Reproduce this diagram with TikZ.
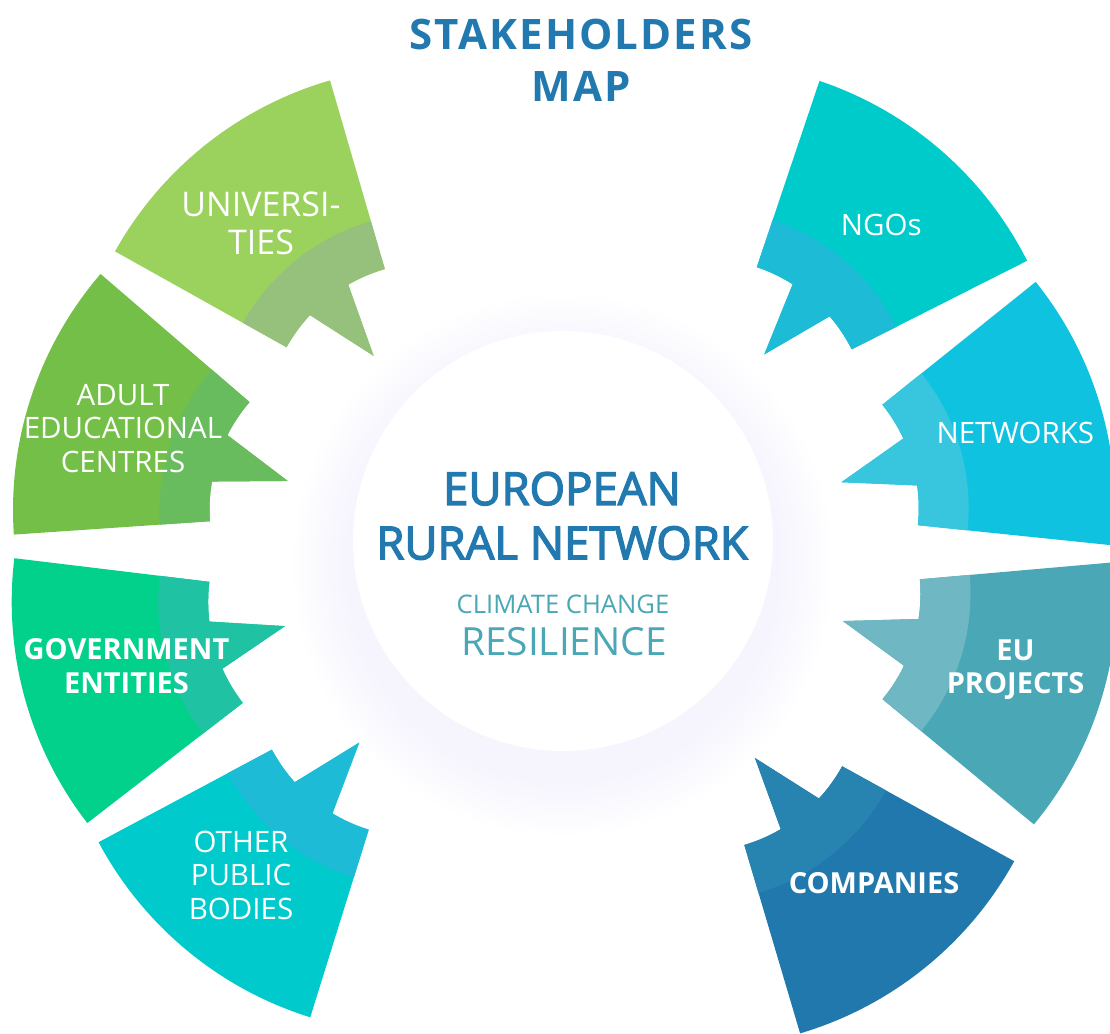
\documentclass[tikz,border=0pt]{standalone}
\usepackage{fontspec}
\setmainfont{Open Sans}
\newfontfamily\hubfont{Open Sans}[FakeBold=3]
\newfontfamily\titlefont{Open Sans}[LetterSpace=5]
\usetikzlibrary{calc}
\definecolor{univgreen}{HTML}{9BD25E}
\definecolor{univband}{HTML}{96C17C}
\definecolor{adultgreen}{HTML}{74BF47}
\definecolor{adultband}{HTML}{69BC5E}
\definecolor{govgreen}{HTML}{02D18B}
\definecolor{govband}{HTML}{1FC3A3}
\definecolor{publicteal}{HTML}{00CACB}
\definecolor{publicband}{HTML}{1EBBD6}
\definecolor{compblue}{HTML}{2178AD}
\definecolor{compband}{HTML}{2783B0}
\definecolor{euteal}{HTML}{4AA7B5}
\definecolor{euband}{HTML}{6FB8C3}
\definecolor{netcyan}{HTML}{0FC2E0}
\definecolor{netband}{HTML}{38C6DE}
\definecolor{ngoteal}{HTML}{00CBCB}
\definecolor{ngoband}{HTML}{1EBBD6}
\definecolor{titleblue}{HTML}{2179AF}
\definecolor{subteal}{HTML}{4AA7B5}
\definecolor{haze}{HTML}{E6E2FB}
\tikzstyle{seglabel} = [text=white, align=center, anchor=base, font=\fontsize{29.5}{33.5}\selectfont]
\tikzstyle{seglabel bold} = [seglabel, font=\bfseries\fontsize{29}{33.5}\selectfont]
\tikzstyle{seglabel big} = [seglabel, font=\fontsize{34}{38}\selectfont]
\newcommand{\segshape}[3]{($(#1)+(#2-22.3:165.5pt)$) -- ($(#1)+(#2-22.3:#3pt)$) arc[start angle=#2-22.3, end angle=#2+22.3, radius=#3pt] -- ($(#1)+(#2+22.3:165.5pt)$) arc[start angle=#2+22.3, end angle=#2+8.5, radius=165.5pt] -- ($(#1)+(#2:92pt)$) -- ($(#1)+(#2-8.5:165.5pt)$) arc[start angle=#2-8.5, end angle=#2-22.3, radius=165.5pt] -- cycle}

\begin{document}
\begin{tikzpicture}[x=1pt, y=1pt]
\useasboundingbox (0,0) rectangle (1110,1033);
\clip (0,0) rectangle (1110,1033);
\coordinate (hub) at (563,492);
\coordinate (univ) at (431,605);
\coordinate (adult) at (375,523);
\coordinate (gov) at (373.7,431.3);
\coordinate (public) at (417.9,361.3);
\coordinate (comp) at (697.3,346.7);
\coordinate (eu) at (755,439.3);
\coordinate (net) at (753.2,524.8);
\coordinate (ngo) at (704,609);
\foreach \i in {1,...,20}
  \fill[haze, opacity=0.025] ($(hub)+(0,-24)$) circle[radius={210pt+3pt*\i}];
\foreach \c/\a/\main/\band in {univ/128.5/univgreen/univband, adult/161.6/adultgreen/adultband,
    gov/195.4/govgreen/govband, public/230.4/publicteal/publicband, comp/308.8/compblue/compband,
    eu/342.7/euteal/euband, net/16.4/netcyan/netband, ngo/49.1/ngoteal/ngoband}
{
  \fill[\main] \segshape{\c}{\a}{362};
  \fill[\band] \segshape{\c}{\a}{215.5};
}
\fill[white] (hub) circle[radius=210pt];
\node[anchor=base, align=center, text=titleblue, font=\titlefont\bfseries\fontsize{42}{52.4}\selectfont] (maptitle) at (581,931.3) {STAKEHOLDERS\\MAP};
\node[anchor=base, align=center, text=titleblue, font=\hubfont\fontsize{45.5}{54.3}\selectfont] (network) at (562,473.7) {EUROPEAN\\RURAL NETWORK};
\node[anchor=base, text=subteal, font=\fontsize{25.6}{30}\selectfont] (climate) at (563,419.7) {CLIMATE CHANGE};
\node[anchor=base, text=subteal, font=\fontsize{38.8}{45}\selectfont] (resilience) at (564,377) {RESILIENCE};
\node[seglabel big] (univlabel) at (261,778) {UNIVERSI-\\TIES};
\node[seglabel] (adultlabel) at (123,560.7) {ADULT\\EDUCATIONAL\\CENTRES};
\node[seglabel bold] (govlabel) at (126.5,339.7) {GOVERNMENT\\ENTITIES};
\node[seglabel] (publiclabel) at (241,113.7) {OTHER\\PUBLIC\\BODIES};
\node[seglabel bold] (complabel) at (874,139.7) {COMPANIES};
\node[seglabel bold] (eulabel) at (1015.5,339) {EU\\PROJECTS};
\node[seglabel] (netlabel) at (1015.3,589) {NETWORKS};
\node[seglabel] (ngolabel) at (881.3,797) {NGOs};
\end{tikzpicture}
\end{document}
